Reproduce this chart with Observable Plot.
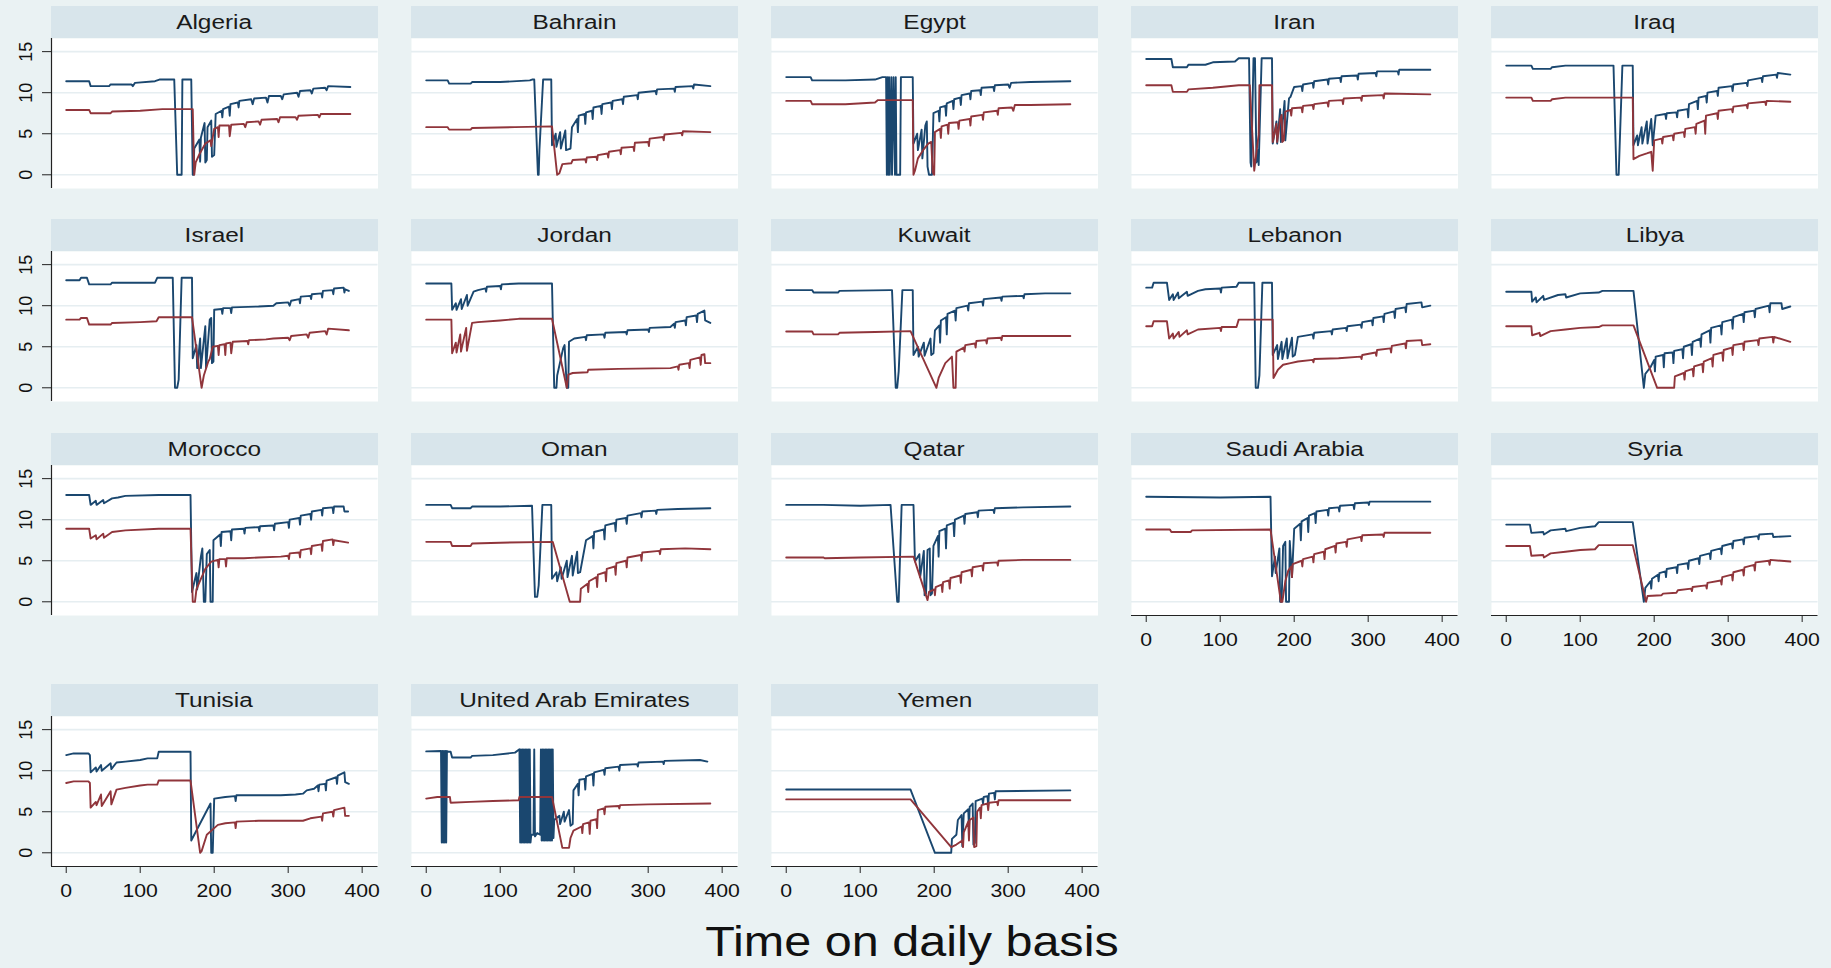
<!DOCTYPE html>
<html><head><meta charset="utf-8">
<script src="https://cdn.jsdelivr.net/npm/d3@7"></script>
<script src="https://cdn.jsdelivr.net/npm/@observablehq/plot@0.6"></script>
<style>
html,body{margin:0;padding:0;background:#EAF2F3;}
#root{position:relative;width:1831px;height:968px;overflow:hidden;font-family:"Liberation Sans",Arial,sans-serif;}
.hdr{position:absolute;height:32px;line-height:32px;background:#D8E5EB;text-align:center;font-size:20px;color:#1a1a1a;white-space:nowrap;}
.hdr span{display:inline-block;transform:scaleX(1.22);transform-origin:center;}
.title{position:absolute;left:511.7px;width:800px;top:921px;text-align:center;font-size:42px;line-height:42px;color:#111;white-space:nowrap;}
.title span{display:inline-block;transform:scaleX(1.155);transform-origin:center;}
</style></head>
<body><div id="root"></div>
<script>
const countries = ["Algeria","Bahrain","Egypt","Iran","Iraq","Israel","Jordan","Kuwait","Lebanon","Libya","Morocco","Oman","Qatar","Saudi Arabia","Syria","Tunisia","United Arab Emirates","Yemen"];
const yTicks = [0,5,10,15];
const xTicks = [0,100,200,300,400];
const xTitle = "Time on daily basis";

const blueAlgeria = [[0,11.4],[31,11.4],[33,10.8],[58,10.8],[60,11.0],[88,11.0],[90,10.8],[93,11.2],[120,11.4],[126,11.6],[146,11.6],[150,0],[156,0],[157,11.6],[169,11.6],[171,0],[172,0],[173,3.2],[180,4.3],[181,1.6],[182,4.5],[187,6.3],[188,1.5],[190,1.8],[191,5.8],[196,6.6],[197,2.2],[200,2.4],[202,7.4],[210,7.8],[211,7.0],[212,8.0],[220,8.3],[221,7.2],[222,8.6],[232,8.8],[233,8.2],[234,9.0],[250,9.2],[252,8.6],[254,9.3],[270,9.4],[272,8.8],[274,9.6],[290,9.6],[292,9.2],[294,9.8],[312,10.0],[314,9.5],[316,10.2],[330,10.3],[332,9.9],[334,10.5],[350,10.6],[352,10.3],[354,10.8],[384,10.7]];
const redAlgeria = [[0,7.9],[31,7.9],[33,7.5],[60,7.5],[62,7.7],[100,7.8],[130,8.0],[171,8.0],[173,0],[175,1.5],[180,2.5],[188,3.8],[195,4.2],[196,3.5],[200,5.6],[205,5.8],[206,4.6],[207,6.0],[220,6.0],[221,4.7],[223,6.1],[240,6.2],[242,5.8],[244,6.4],[260,6.5],[262,6.1],[264,6.7],[285,6.8],[287,6.4],[289,7.0],[310,7.0],[312,6.7],[314,7.2],[340,7.3],[342,7.0],[344,7.4],[384,7.4]];

const blueBahrain = [[0,11.5],[29,11.5],[31,11.1],[60,11.1],[62,11.3],[100,11.3],[140,11.5],[143,11.6],[146,11.6],[151,0],[152,0],[153,3.0],[158,11.6],[169,11.6],[170,3.6],[175,5.0],[176,3.4],[181,5.2],[182,3.2],[188,5.4],[189,3.0],[195,3.2],[197,5.8],[204,6.8],[205,5.2],[206,7.2],[214,7.4],[215,6.2],[216,7.6],[224,7.8],[225,6.8],[226,8.2],[236,8.4],[237,7.4],[238,8.6],[250,8.8],[251,8.0],[252,9.0],[265,9.2],[266,8.6],[267,9.5],[285,9.7],[286,9.2],[287,10.0],[310,10.2],[311,9.8],[312,10.4],[335,10.5],[336,10.1],[337,10.7],[360,10.8],[361,10.5],[362,11.0],[384,10.8]];
const redBahrain = [[0,5.8],[29,5.8],[31,5.5],[60,5.5],[62,5.7],[120,5.8],[170,5.9],[177,0],[180,0.2],[184,1.3],[196,1.4],[198,1.8],[215,1.9],[216,1.5],[217,2.1],[230,2.2],[231,1.8],[232,2.4],[245,2.6],[246,2.1],[247,2.8],[262,3.0],[263,2.5],[264,3.3],[280,3.4],[281,2.9],[282,3.9],[300,4.0],[301,3.5],[302,4.4],[320,4.6],[321,4.2],[322,4.9],[345,5.1],[346,4.8],[347,5.3],[384,5.2]];

const blueEgypt = [[0,11.9],[33,11.9],[35,11.5],[80,11.5],[120,11.6],[130,11.9],[135,11.9],[136,0],[137,11.9],[138,0],[139,11.9],[140,0],[142,11.9],[143,0],[145,11.9],[147,0],[148,11.9],[149,0],[154,0],[155,11.9],[171,11.9],[172,3.8],[177,5.0],[178,3.0],[183,5.5],[184,2.0],[188,6.0],[190,6.5],[191,1.0],[193,0],[197,0],[199,7.5],[206,7.8],[207,6.5],[208,8.2],[215,8.4],[216,7.2],[217,8.7],[225,9.0],[226,8.0],[227,9.2],[235,9.4],[236,8.5],[237,9.7],[248,9.9],[249,9.2],[250,10.2],[262,10.3],[263,9.7],[264,10.6],[280,10.7],[281,10.2],[282,10.9],[300,11.0],[302,10.6],[304,11.2],[330,11.3],[384,11.4]];
const redEgypt = [[0,9.0],[33,9.0],[35,8.6],[80,8.6],[120,8.8],[124,9.1],[171,9.1],[172,0],[174,0.5],[178,2.0],[185,3.0],[192,3.8],[196,4.0],[198,0.3],[200,0],[201,5.2],[208,5.6],[209,4.5],[210,5.9],[218,6.1],[219,5.0],[220,6.3],[232,6.4],[233,5.6],[234,6.6],[248,6.8],[249,6.0],[250,7.1],[265,7.3],[266,6.7],[267,7.6],[285,7.8],[286,7.3],[287,8.1],[305,8.2],[307,7.8],[309,8.5],[330,8.5],[384,8.6]];

const blueIran = [[0,14.1],[34,14.1],[36,13.1],[55,13.1],[57,13.4],[80,13.4],[90,13.7],[120,13.8],[125,14.2],[139,14.2],[141,1.5],[142,1.0],[145,14.2],[147,14.2],[149,1.5],[151,3.0],[152,1.2],[156,14.2],[170,14.2],[171,3.8],[176,6.5],[177,3.8],[181,8.0],[182,4.0],[187,9.0],[188,4.2],[193,9.3],[195,9.5],[200,10.7],[210,10.8],[211,10.2],[212,11.0],[225,11.2],[226,10.6],[227,11.4],[245,11.6],[246,11.0],[247,11.7],[262,11.8],[263,11.3],[264,12.0],[285,12.1],[286,11.6],[287,12.3],[310,12.4],[311,12.0],[312,12.6],[340,12.6],[341,12.2],[342,12.8],[384,12.8]];
const redIran = [[0,10.9],[34,10.9],[36,10.1],[55,10.1],[57,10.4],[90,10.6],[125,10.9],[140,10.9],[146,0.5],[150,3.5],[152,4.9],[153,10.9],[170,10.9],[171,4.0],[176,6.2],[177,4.0],[181,6.8],[183,7.3],[184,4.0],[186,4.2],[188,7.7],[195,7.9],[196,7.2],[197,8.1],[210,8.2],[211,7.6],[212,8.4],[225,8.5],[226,8.0],[227,8.6],[245,8.8],[246,8.3],[247,9.0],[265,9.1],[266,8.6],[267,9.3],[290,9.4],[291,9.0],[292,9.6],[320,9.7],[321,9.3],[322,9.9],[384,9.8]];

const blueIraq = [[0,13.3],[34,13.3],[36,12.9],[60,12.9],[62,13.1],[80,13.3],[145,13.3],[149,0],[152,0],[157,13.3],[171,13.3],[172,3.6],[177,4.8],[178,3.6],[183,5.8],[184,3.8],[190,6.5],[191,3.8],[196,6.8],[198,3.6],[202,7.2],[215,7.4],[216,6.8],[217,7.5],[230,7.6],[231,7.0],[232,7.8],[245,8.0],[246,7.0],[247,8.6],[258,9.0],[259,8.0],[260,9.4],[270,9.6],[271,8.8],[272,10.0],[285,10.2],[286,9.6],[287,10.6],[305,10.8],[306,10.2],[307,11.0],[325,11.2],[326,10.8],[327,11.5],[345,11.8],[346,11.3],[347,12.0],[365,12.2],[366,11.8],[367,12.4],[384,12.2]];
const redIraq = [[0,9.4],[34,9.4],[36,9.0],[60,9.0],[62,9.2],[80,9.4],[171,9.4],[172,1.9],[180,2.3],[190,2.6],[196,2.8],[198,0.5],[200,4.2],[210,4.4],[211,3.8],[212,4.6],[225,4.8],[226,4.2],[227,5.0],[240,5.2],[241,4.6],[242,5.6],[255,5.8],[256,5.0],[257,6.2],[268,6.6],[269,5.0],[270,7.2],[285,7.5],[286,6.8],[287,7.8],[305,8.0],[306,7.6],[307,8.3],[325,8.5],[326,8.1],[327,8.7],[350,8.9],[351,8.5],[352,9.0],[384,8.9]];

const blueIsrael = [[0,13.1],[18,13.1],[20,13.4],[28,13.4],[31,12.6],[60,12.6],[62,12.8],[120,12.8],[123,13.4],[144,13.4],[147,0],[150,0],[152,1.0],[156,13.4],[170,13.4],[171,3.6],[176,5.2],[177,2.4],[181,6.0],[182,2.4],[188,7.5],[189,2.4],[194,8.3],[196,8.5],[197,3.0],[199,3.2],[200,9.5],[210,9.6],[211,9.0],[212,9.7],[222,9.7],[223,9.1],[224,9.8],[260,9.9],[280,10.0],[284,10.3],[300,10.4],[302,10.0],[304,10.6],[315,10.8],[316,10.3],[317,11.1],[330,11.2],[331,10.8],[332,11.4],[345,11.5],[346,11.0],[347,11.8],[360,11.9],[361,11.4],[362,12.1],[375,12.2],[376,11.6],[377,12.0],[382,11.8]];
const redIsrael = [[0,8.3],[18,8.3],[20,8.5],[28,8.5],[31,7.7],[60,7.7],[62,7.9],[100,8.0],[122,8.1],[125,8.6],[170,8.6],[183,0],[186,1.5],[192,3.2],[194,3.5],[198,5.0],[205,5.1],[206,4.0],[207,5.2],[214,5.3],[215,4.0],[216,5.4],[222,5.5],[223,4.2],[225,5.6],[245,5.7],[246,5.3],[247,5.8],[270,5.9],[280,6.0],[300,6.1],[302,5.8],[304,6.3],[325,6.5],[327,6.1],[329,6.7],[350,6.9],[352,6.5],[354,7.2],[382,7.0]];

const blueJordan = [[0,12.7],[34,12.7],[35,9.5],[40,10.3],[41,9.5],[47,10.8],[48,9.6],[55,11.3],[56,10.0],[64,11.7],[70,11.9],[80,12.1],[81,11.7],[82,12.3],[100,12.4],[101,12.0],[102,12.6],[125,12.7],[170,12.7],[173,0],[176,0],[177,1.5],[185,4.8],[187,5.2],[190,0],[192,0],[193,5.6],[200,6.0],[215,6.2],[216,5.8],[217,6.4],[240,6.5],[241,6.1],[242,6.7],[270,6.8],[271,6.5],[272,7.0],[300,7.1],[301,6.8],[302,7.3],[330,7.4],[335,7.8],[336,7.3],[337,8.0],[350,8.2],[351,7.6],[352,8.6],[365,8.8],[366,8.0],[367,9.0],[376,9.4],[377,8.2],[384,7.9]];
const redJordan = [[0,8.3],[34,8.3],[35,4.2],[40,5.5],[41,4.3],[46,6.5],[47,4.4],[54,7.3],[55,4.5],[62,7.9],[70,8.0],[100,8.2],[125,8.4],[170,8.4],[190,0],[192,1.6],[198,1.8],[218,1.9],[219,2.2],[260,2.3],[330,2.4],[340,2.6],[341,2.2],[342,2.8],[355,3.0],[356,2.4],[357,3.4],[370,3.7],[371,2.8],[372,4.0],[376,4.1],[377,3.0],[384,3.0]];

const blueKuwait = [[0,11.9],[35,11.9],[37,11.6],[70,11.6],[72,11.8],[140,11.9],[143,11.9],[148,0],[150,0],[152,2.0],[157,11.9],[171,11.9],[172,4.0],[178,5.0],[179,3.8],[186,5.5],[187,3.9],[195,6.0],[196,4.0],[199,4.2],[201,7.0],[207,7.6],[208,5.5],[209,8.2],[216,8.6],[217,6.5],[218,9.0],[228,9.4],[229,8.2],[230,9.7],[245,10.0],[246,9.4],[247,10.3],[265,10.5],[266,10.0],[267,10.8],[290,11.0],[291,10.6],[292,11.1],[320,11.2],[321,10.9],[322,11.4],[350,11.5],[384,11.5]];
const redKuwait = [[0,6.85],[35,6.85],[37,6.5],[70,6.5],[72,6.7],[120,6.8],[168,6.9],[203,0],[206,1.2],[215,3.0],[224,3.8],[226,0],[229,0],[230,4.4],[240,4.9],[241,4.4],[242,5.2],[255,5.4],[256,4.9],[257,5.7],[270,5.8],[271,5.4],[272,6.0],[290,6.1],[291,5.8],[292,6.3],[384,6.3]];

const blueLebanon = [[0,12.2],[8,12.2],[10,12.8],[28,12.8],[31,10.7],[36,11.4],[37,10.7],[43,11.6],[44,10.9],[55,11.7],[56,11.2],[70,11.8],[80,12.0],[100,12.1],[101,11.6],[102,12.2],[122,12.3],[125,12.8],[146,12.8],[148,0],[151,0],[153,1.5],[157,12.8],[170,12.8],[171,4.0],[177,5.2],[178,3.5],[183,5.6],[184,3.5],[190,6.0],[191,3.6],[197,6.1],[198,3.8],[201,4.0],[205,6.2],[225,6.5],[226,6.0],[227,6.7],[250,6.9],[251,6.5],[252,7.1],[270,7.3],[271,6.9],[272,7.5],[290,7.7],[291,7.3],[292,8.0],[305,8.2],[306,7.6],[307,8.5],[320,8.7],[321,8.0],[322,9.0],[335,9.3],[336,8.5],[337,9.6],[350,9.8],[351,9.2],[352,10.2],[372,10.4],[373,9.8],[384,10.0]];
const redLebanon = [[0,7.5],[8,7.5],[10,8.1],[28,8.1],[31,6.0],[36,6.6],[37,6.0],[44,6.8],[45,6.2],[55,7.0],[56,6.5],[70,7.1],[100,7.3],[101,6.9],[102,7.4],[122,7.4],[125,8.3],[171,8.3],[172,1.2],[178,2.2],[185,2.8],[195,3.0],[205,3.2],[225,3.4],[226,3.1],[227,3.5],[260,3.6],[290,3.8],[291,3.5],[292,4.0],[310,4.3],[311,3.9],[312,4.6],[330,4.8],[331,4.3],[332,5.1],[350,5.4],[351,4.8],[352,5.7],[372,5.8],[373,5.2],[384,5.3]];

const blueLibya = [[0,11.7],[34,11.7],[35,10.5],[40,11.0],[41,10.4],[50,11.2],[51,10.7],[70,11.3],[80,11.4],[81,11.0],[100,11.5],[125,11.6],[130,11.8],[172,11.8],[186,0],[188,1.7],[195,2.5],[200,3.4],[201,2.0],[202,3.8],[212,4.0],[213,2.5],[214,4.2],[225,4.3],[226,3.0],[227,4.5],[238,4.7],[239,3.6],[240,5.0],[250,5.3],[251,4.0],[252,5.6],[262,6.0],[263,5.0],[264,6.5],[275,7.0],[276,5.5],[277,7.3],[290,7.6],[291,6.5],[292,8.0],[305,8.3],[306,7.2],[307,8.6],[320,9.0],[321,8.0],[322,9.2],[335,9.4],[336,8.6],[337,9.6],[355,10.0],[356,9.2],[357,10.3],[372,10.3],[373,9.6],[384,9.9]];
const redLibya = [[0,7.5],[34,7.5],[35,6.4],[45,6.7],[46,6.3],[60,6.9],[80,7.1],[100,7.3],[125,7.4],[130,7.6],[172,7.6],[204,0],[227,0],[228,1.4],[240,1.8],[241,1.0],[242,2.0],[252,2.3],[253,1.4],[254,2.6],[265,2.9],[266,1.9],[267,3.2],[278,3.6],[279,2.6],[280,4.0],[292,4.3],[293,3.3],[294,4.6],[305,4.9],[306,4.0],[307,5.2],[320,5.4],[321,4.6],[322,5.6],[340,5.8],[341,5.2],[342,6.0],[360,6.2],[361,5.5],[362,6.2],[384,5.6]];

const blueMorocco = [[0,13.0],[31,13.0],[33,11.8],[40,12.3],[41,11.8],[50,12.4],[51,12.0],[62,12.6],[70,12.7],[80,12.9],[125,13.0],[168,13.0],[170,1.2],[176,3.5],[177,1.5],[182,5.5],[184,6.5],[186,0],[188,0],[190,5.8],[194,6.3],[195,0],[198,0],[199,7.5],[208,8.2],[209,6.8],[210,8.5],[222,8.6],[223,7.5],[224,8.8],[240,8.9],[241,8.3],[242,9.0],[260,9.1],[261,8.6],[262,9.2],[280,9.3],[281,8.7],[282,9.5],[300,9.7],[301,9.0],[302,10.0],[315,10.2],[316,9.4],[317,10.5],[330,10.7],[331,10.0],[332,11.0],[345,11.2],[346,10.5],[347,11.4],[360,11.5],[361,10.8],[362,11.6],[375,11.6],[376,11.0],[381,11.0]];
const redMorocco = [[0,8.9],[31,8.9],[33,7.7],[40,8.1],[41,7.6],[50,8.3],[51,7.8],[62,8.5],[80,8.7],[125,8.9],[168,8.9],[171,0],[174,0],[176,1.5],[182,2.8],[188,4.0],[196,4.9],[205,5.1],[206,4.2],[207,5.2],[215,5.2],[216,4.3],[217,5.3],[240,5.3],[260,5.4],[290,5.5],[300,5.6],[301,5.2],[302,5.9],[315,6.0],[316,5.4],[317,6.3],[330,6.5],[331,5.8],[332,6.8],[345,7.0],[346,6.2],[347,7.4],[360,7.6],[361,6.9],[362,7.5],[381,7.2]];

const blueOman = [[0,11.8],[33,11.8],[35,11.4],[60,11.4],[62,11.6],[100,11.6],[143,11.7],[147,0.6],[150,0.6],[152,2.0],[157,11.8],[169,11.8],[170,2.8],[176,3.6],[177,2.5],[182,4.2],[183,2.8],[190,5.0],[191,3.0],[197,5.6],[198,3.2],[204,6.1],[205,3.5],[208,3.6],[216,7.5],[225,8.0],[226,6.5],[227,8.5],[240,8.8],[241,7.6],[242,9.3],[255,9.6],[256,8.6],[257,10.0],[270,10.2],[271,9.5],[272,10.5],[290,10.8],[291,10.3],[292,11.0],[310,11.1],[311,10.7],[312,11.2],[340,11.3],[384,11.4]];
const redOman = [[0,7.3],[33,7.3],[35,6.8],[60,6.8],[62,7.1],[100,7.2],[171,7.3],[194,0],[208,0],[209,1.6],[218,2.2],[219,1.2],[220,2.5],[230,3.0],[231,1.8],[232,3.3],[242,3.6],[243,2.5],[244,4.0],[255,4.3],[256,3.3],[257,4.7],[270,5.0],[271,4.2],[272,5.4],[290,5.7],[291,5.0],[292,6.0],[315,6.2],[316,5.8],[317,6.4],[350,6.5],[384,6.4]];

const blueQatar = [[0,11.8],[50,11.8],[100,11.7],[141,11.8],[150,0],[152,0],[156,11.8],[172,11.8],[174,4.9],[180,5.8],[181,3.0],[186,6.2],[187,0.8],[189,1.0],[191,6.3],[194,6.5],[195,0.8],[197,1.0],[199,6.8],[205,8.0],[206,5.5],[207,8.6],[215,8.9],[216,6.5],[217,9.3],[226,9.6],[227,8.0],[228,10.0],[240,10.5],[241,9.5],[242,10.7],[258,10.9],[259,10.3],[260,11.1],[280,11.2],[281,10.8],[282,11.4],[320,11.5],[384,11.6]];
const redQatar = [[0,5.4],[50,5.4],[52,5.3],[100,5.4],[172,5.5],[191,0.2],[193,1.2],[200,1.5],[201,0.8],[202,1.8],[210,2.1],[211,1.2],[212,2.4],[220,2.6],[221,1.6],[222,2.9],[235,3.2],[236,2.3],[237,3.6],[250,3.9],[251,3.1],[252,4.2],[265,4.4],[266,3.8],[267,4.7],[285,4.8],[286,4.4],[287,5.0],[320,5.1],[384,5.1]];

const blueSaudi = [[0,12.8],[100,12.7],[168,12.8],[170,3.1],[174,5.5],[175,3.5],[180,6.5],[181,0],[183,0],[185,6.8],[188,7.3],[189,0],[193,0],[194,7.4],[197,3.0],[200,8.9],[208,9.5],[209,7.5],[210,9.8],[218,10.2],[219,8.5],[220,10.5],[228,10.8],[229,9.6],[230,11.0],[245,11.2],[246,10.5],[247,11.4],[260,11.5],[261,11.0],[262,11.7],[280,11.8],[281,11.3],[282,12.0],[300,12.1],[301,11.8],[302,12.2],[330,12.2],[384,12.2]];
const redSaudi = [[0,8.8],[32,8.8],[34,8.5],[60,8.5],[62,8.7],[168,8.8],[182,0],[184,0],[188,2.5],[192,3.8],[196,4.3],[197,3.0],[198,4.6],[210,5.0],[211,4.3],[212,5.2],[225,5.5],[226,4.8],[227,5.8],[240,6.1],[241,5.2],[242,6.4],[255,6.8],[256,6.0],[257,7.1],[270,7.3],[271,6.7],[272,7.6],[290,7.9],[291,7.4],[292,8.1],[320,8.2],[321,7.9],[322,8.4],[384,8.4]];

const blueSyria = [[0,9.4],[32,9.4],[34,8.4],[50,8.5],[51,8.2],[60,8.7],[80,8.9],[81,8.6],[100,9.0],[120,9.2],[125,9.7],[171,9.7],[186,0],[188,1.7],[195,2.5],[196,1.6],[197,2.8],[205,3.3],[206,2.5],[207,3.5],[215,3.7],[216,3.0],[217,4.0],[230,4.2],[231,3.5],[232,4.5],[245,4.7],[246,4.0],[247,5.0],[260,5.3],[261,4.6],[262,5.6],[275,5.9],[276,5.2],[277,6.2],[290,6.5],[291,5.8],[292,6.8],[305,7.1],[306,6.5],[307,7.4],[320,7.6],[321,7.0],[322,7.8],[340,8.0],[341,7.6],[342,8.2],[360,8.3],[361,7.9],[384,8.0]];
const redSyria = [[0,6.8],[32,6.8],[34,5.6],[50,5.7],[51,5.4],[60,5.9],[80,6.1],[100,6.3],[120,6.4],[125,6.9],[171,6.9],[189,0],[191,0.7],[210,0.8],[212,1.0],[230,1.1],[232,1.4],[250,1.6],[251,1.3],[252,1.8],[270,2.0],[271,1.6],[272,2.3],[290,2.6],[291,2.1],[292,3.0],[305,3.3],[306,2.6],[307,3.6],[320,3.9],[321,3.2],[322,4.2],[335,4.5],[336,3.8],[337,4.8],[355,5.0],[356,4.5],[357,5.1],[384,4.9]];

const blueTunisia = [[0,11.9],[10,12.1],[30,12.1],[32,11.9],[33,9.8],[40,10.4],[41,9.9],[47,10.7],[48,10.0],[60,10.9],[61,10.2],[68,11.0],[80,11.1],[100,11.3],[110,11.5],[123,11.5],[125,12.3],[168,12.3],[169,1.5],[195,6.0],[196,0],[198,0],[200,6.6],[215,6.8],[228,6.9],[229,6.3],[230,7.0],[290,7.0],[310,7.1],[320,7.2],[325,7.6],[335,7.8],[340,8.2],[341,7.5],[342,8.3],[350,8.4],[351,7.6],[352,8.8],[365,9.2],[366,8.4],[367,9.4],[376,9.8],[377,8.6],[382,8.4]];
const redTunisia = [[0,8.5],[10,8.7],[30,8.7],[32,8.5],[33,5.5],[40,6.2],[41,5.8],[47,7.1],[48,5.7],[60,7.5],[61,5.9],[68,7.7],[80,7.9],[100,8.2],[110,8.3],[123,8.3],[125,8.8],[168,8.8],[181,0],[183,0.2],[190,2.2],[200,3.0],[205,3.4],[215,3.6],[228,3.7],[229,3.0],[230,3.8],[260,3.9],[320,3.9],[330,4.2],[345,4.4],[346,3.9],[347,4.8],[360,5.0],[361,4.4],[362,5.2],[376,5.5],[377,4.5],[382,4.5]];

const blueUAE = [[0,12.35],[20,12.4],[21,1.25],[22,12.4],[23,1.25],[24,12.4],[25,1.25],[26,12.4],[27,1.25],[28,12.4],[30,12.3],[33,12.3],[35,11.6],[60,11.6],[62,11.8],[90,11.9],[120,12.2],[126,12.6],[127,1.25],[128,12.6],[129,1.25],[130,12.6],[131,1.25],[132,12.6],[133,1.25],[134,12.6],[135,1.25],[136,12.6],[137,1.25],[138,12.6],[139,1.25],[140,12.6],[141,1.25],[142,2.2],[145,2.2],[146,12.6],[147,2.0],[150,2.4],[154,2.2],[155,12.6],[156,1.5],[157,12.6],[158,1.5],[159,12.6],[160,1.5],[161,12.6],[162,1.5],[163,12.6],[164,1.5],[165,12.6],[166,1.5],[167,12.6],[168,1.5],[169,12.6],[170,1.5],[171,12.6],[172,1.8],[173,4.0],[180,4.5],[181,3.5],[186,5.0],[187,3.8],[193,5.2],[195,3.3],[198,3.5],[199,7.6],[205,8.4],[206,7.0],[207,8.9],[214,9.0],[215,7.7],[216,9.3],[225,9.6],[226,8.2],[227,9.8],[240,10.1],[241,9.5],[242,10.3],[260,10.5],[261,10.0],[262,10.7],[285,10.8],[286,10.5],[287,11.0],[320,11.1],[321,10.8],[322,11.2],[370,11.3],[380,11.1]];
const redUAE = [[0,6.6],[15,6.8],[32,6.8],[33,6.1],[60,6.2],[90,6.3],[125,6.4],[126,6.8],[170,6.8],[184,0.6],[193,0.6],[195,1.8],[199,2.7],[210,3.2],[211,2.4],[212,3.5],[220,3.7],[221,2.3],[222,3.9],[230,4.1],[231,3.0],[232,5.2],[240,5.4],[241,4.7],[242,5.6],[260,5.7],[261,5.4],[262,5.8],[300,5.9],[384,6.0]];

const blueYemen = [[0,7.7],[168,7.7],[201,0],[223,0],[224,1.7],[230,2.2],[232,4.0],[237,4.6],[238,0.8],[240,4.8],[246,5.3],[247,3.0],[248,5.6],[252,6.0],[253,1.0],[255,1.2],[256,6.3],[265,6.6],[266,6.0],[267,6.8],[272,6.9],[273,5.8],[274,7.2],[281,7.3],[282,6.5],[283,7.5],[384,7.6]];
const redYemen = [[0,6.5],[168,6.5],[223,0.7],[230,1.0],[238,1.5],[239,0.7],[240,2.5],[246,3.8],[247,1.5],[248,4.0],[253,4.3],[254,0.7],[257,0.8],[258,5.0],[262,5.5],[263,4.2],[264,5.8],[272,6.0],[273,5.2],[274,6.1],[285,6.2],[286,5.8],[287,6.4],[384,6.4]];

const blueSeries = [blueAlgeria,blueBahrain,blueEgypt,blueIran,blueIraq,blueIsrael,blueJordan,blueKuwait,blueLebanon,blueLibya,blueMorocco,blueOman,blueQatar,blueSaudi,blueSyria,blueTunisia,blueUAE,blueYemen];
const redSeries = [redAlgeria,redBahrain,redEgypt,redIran,redIraq,redIsrael,redJordan,redKuwait,redLebanon,redLibya,redMorocco,redOman,redQatar,redSaudi,redSyria,redTunisia,redUAE,redYemen];

// layout / style
const xDomain = [-19.9, 421.4];
const yDomain = [-1.67, 16.6];
const colLeft0 = 51, colPitch = 360.12, panelW = 326.5, headerH = 32, plotH = 150;
const rowTops = [6, 219.3, 432.6, 684.3];
const BLUE = "#1A476F", RED = "#90353B", GRID = "#E6EEF1", AXIS = "#222";
const FONT = "'Liberation Sans', Arial, sans-serif";
const TICK_STRETCH = 1.18;

const root = document.getElementById("root");
countries.forEach((name, i) => {
  const c = i % 5, r = Math.floor(i / 5);
  const left = colLeft0 + c * colPitch, top = rowTops[r];
  const hdr = document.createElement("div");
  hdr.className = "hdr";
  hdr.style.left = left + "px"; hdr.style.top = top + "px"; hdr.style.width = panelW + "px";
  const sp = document.createElement("span");
  sp.textContent = name;
  hdr.appendChild(sp);
  root.appendChild(hdr);

  const isLeft = c === 0, isBottom = i + 5 >= countries.length;
  const mL = isLeft ? 55 : 0, mB = isBottom ? 45 : 0;
  const marks = [
    Plot.frame({fill: "white", stroke: "none"}),
    Plot.ruleY(yTicks, {stroke: GRID, strokeWidth: 1.6}),
    Plot.line(blueSeries[i], {x: d => d[0], y: d => d[1], stroke: BLUE, strokeWidth: 1.9}),
    Plot.line(redSeries[i], {x: d => d[0], y: d => d[1], stroke: RED, strokeWidth: 1.9})
  ];
  if (isLeft) {
    marks.push(Plot.ruleX([xDomain[0]], {stroke: AXIS, strokeWidth: 1.2}));
    marks.push(Plot.axisY({ticks: yTicks, tickSize: 9, tickFormat: () => "", label: null, stroke: AXIS}));
    marks.push(Plot.text(yTicks, {y: d => d, text: d => String(d), frameAnchor: "left", dx: -25, rotate: -90, textAnchor: "middle", lineAnchor: "middle", fill: "#111", fontSize: 18}));
  }
  if (isBottom) {
    marks.push(Plot.ruleY([yDomain[0]], {stroke: AXIS, strokeWidth: 1.2}));
    marks.push(Plot.axisX({ticks: xTicks, tickSize: 7, tickPadding: 11, label: null, stroke: AXIS, fill: "#111", fontSize: 18}));
  }
  const svg = Plot.plot({
    width: panelW + mL, height: plotH + mB,
    marginLeft: mL, marginRight: 0, marginTop: 0, marginBottom: mB,
    x: {domain: xDomain, axis: null},
    y: {domain: yDomain, axis: null},
    style: {background: "transparent", fontFamily: FONT, fontSize: "18px", color: "#111", overflow: "visible"},
    marks
  });
  svg.style.position = "absolute";
  svg.style.left = (left - mL) + "px";
  svg.style.top = (top + headerH) + "px";
  svg.style.maxWidth = "none";
  root.appendChild(svg);
  // widen x tick labels to match the reference's wide lettering
  svg.querySelectorAll('g[aria-label="x-axis tick label"] text').forEach(el => {
    const len = el.getComputedTextLength();
    if (len > 0) {
      el.setAttribute("textLength", (len * TICK_STRETCH).toFixed(2));
      el.setAttribute("lengthAdjust", "spacingAndGlyphs");
    }
  });
});

const t = document.createElement("div");
t.className = "title";
const ts = document.createElement("span");
ts.textContent = xTitle;
t.appendChild(ts);
root.appendChild(t);
</script>
</body></html>
